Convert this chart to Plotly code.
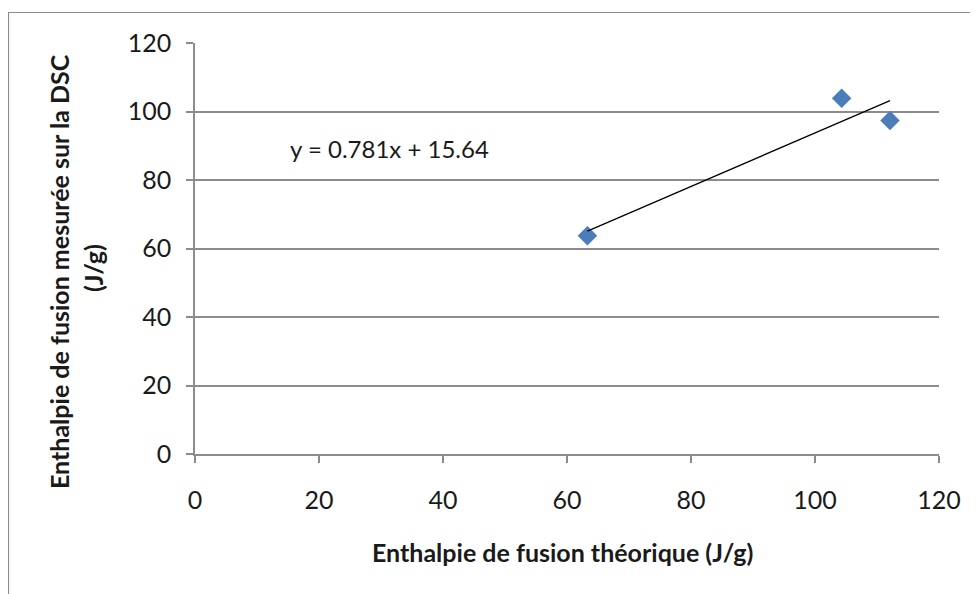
import numpy as np
import plotly.graph_objects as go

# data
theoretical = [63.3, 104.3, 112.1]   # Enthalpie de fusion théorique (J/g)
measured = [63.7, 103.9, 97.4]       # Enthalpie mesurée sur la DSC (J/g)
slope = 0.781
intercept = 15.64
tick_vals = [0, 20, 40, 60, 80, 100, 120]

# the page body has an 8px margin, so the figure is placed at (8, 8)
OFF = 8
W, H = 978 - OFF, 594 - OFF
L, R, T, B = 195 - OFF, 39, 43 - OFF, 140
pw, ph = W - L - R, H - T - B


def px_x(x):
    # screen pixel -> paper x
    return (x - OFF - L) / pw


def px_y(y):
    # screen pixel -> paper y
    return (H - B - (y - OFF)) / ph


grid = "#8c8c8c"
txt = "#1a1a1a"
font_main = "Lato, 'Open Sans', Arial, sans-serif"

# trend line over the data range
tx = np.array([min(theoretical), max(theoretical)])
ty = slope * tx + intercept

fig = go.Figure()
fig.add_trace(go.Scatter(
    x=theoretical, y=measured, mode="markers",
    marker=dict(symbol="diamond", size=15, color="#4a7ebb",
                line=dict(width=0)),
    showlegend=False,
))
fig.add_trace(go.Scatter(
    x=tx, y=ty, mode="lines",
    line=dict(color="black", width=1.3),
    showlegend=False,
))

fig.update_xaxes(
    range=[0, 120], tickvals=tick_vals, showgrid=False,
    showline=True, linecolor=grid, linewidth=1.5,
    ticks="outside", ticklen=7, tickcolor=grid, tickwidth=1.5,
    ticklabelstandoff=16,
    tickfont=dict(size=25, color=txt), zeroline=False,
)
fig.update_yaxes(
    range=[0, 120], tickvals=tick_vals, showgrid=True,
    gridcolor=grid, gridwidth=1.5,
    showline=True, linecolor=grid, linewidth=1.5,
    ticks="outside", ticklen=7, tickcolor=grid, tickwidth=1.5,
    ticklabelstandoff=10,
    tickfont=dict(size=25, color=txt), zeroline=False,
)

# axis titles as annotations so they sit where the original has them
fig.add_annotation(
    x=px_x(562), y=px_y(552), xref="paper", yref="paper",
    text="<b>Enthalpie de fusion théorique (J/g)</b>",
    showarrow=False, font=dict(size=25, color=txt),
    xanchor="center", yanchor="middle",
)
for line, sx, sy in [("Enthalpie de fusion mesurée sur la DSC", 59, 272),
                     ("(J/g)", 93, 268)]:
    fig.add_annotation(
        x=px_x(sx), y=px_y(sy), xref="paper", yref="paper",
        text=f"<b>{line}</b>", textangle=-90, showarrow=False,
        font=dict(size=25, color=txt),
        xanchor="center", yanchor="middle",
    )
fig.add_annotation(
    x=px_x(389), y=px_y(148), xref="paper", yref="paper",
    text=f"y = {slope}x + {intercept}", showarrow=False,
    font=dict(size=24, color=txt), xanchor="center", yanchor="middle",
)

# outer chart frame
fig.add_shape(
    type="rect", xref="paper", yref="paper",
    x0=px_x(8.5), x1=1.2, y0=-0.6, y1=px_y(12.5),
    line=dict(color="#8c8c8c", width=1.2), layer="below",
)

fig.update_layout(
    width=W, height=H,
    margin=dict(l=L, r=R, t=T, b=B),
    paper_bgcolor="white", plot_bgcolor="white",
    font=dict(family=font_main),
)

fig.write_html("out.html")
